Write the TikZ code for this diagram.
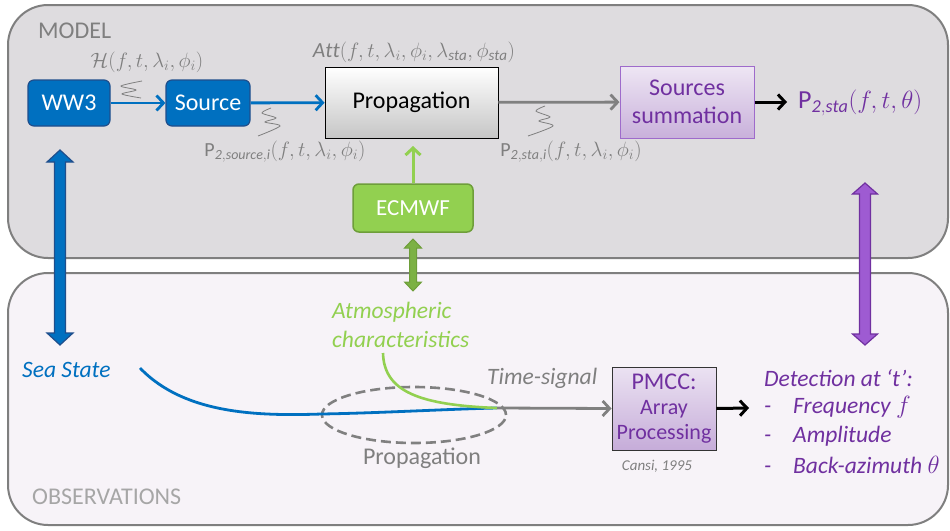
\documentclass[tikz,border=0pt]{standalone}
\usepackage{fontspec}
\setmainfont{Carlito}
\usetikzlibrary{arrows.meta,shapes.geometric}
\definecolor{panelgray}{HTML}{DEDCDF}
\definecolor{panelpink}{HTML}{F7F3F8}
\definecolor{bordgray}{HTML}{7F7F7F}
\definecolor{txtgray}{HTML}{7F7F7F}
\definecolor{obsgray}{HTML}{A6A6A6}
\definecolor{wblue}{HTML}{0070C0}
\definecolor{wblueD}{HTML}{1F4E8C}
\definecolor{egreen}{HTML}{92D050}
\definecolor{egreenD}{HTML}{6E9E3A}
\definecolor{ppurple}{HTML}{7030A0}
\definecolor{pfill}{HTML}{9E5BD2}
\definecolor{pborder}{HTML}{9E6BCB}
\newcommand\fatarrow[7]{%
  \draw[#7] (#1,#2) -- (#1+#5,#2+#6) -- (#1+#4,#2+#6) -- (#1+#4,#3-#6) -- (#1+#5,#3-#6) -- (#1,#3) -- (#1-#5,#3-#6) -- (#1-#4,#3-#6) -- (#1-#4,#2+#6) -- (#1-#5,#2+#6) -- cycle;}
\tikzset{
  panel/.style={draw=bordgray, line width=2pt, rounded corners=40pt},
  bluebox/.style={draw=wblueD, fill=wblue, line width=1.2pt, rounded corners=6pt, text=white, font=\fontsize{24}{26}\selectfont, minimum height=46pt, inner sep=0pt},
  greenbox/.style={draw=egreenD, fill=egreen, line width=1.5pt, rounded corners=6pt, text=white, font=\fontsize{23}{25}\selectfont, minimum height=48pt, minimum width=120pt, inner sep=0pt},
  propbox/.style={draw=black, line width=0.9pt, top color=white, bottom color=gray!45, font=\fontsize{24}{26}\selectfont, minimum width=173pt, minimum height=71pt, inner sep=0pt},
  sumbox/.style={draw=pborder, line width=1pt, top color=ppurple!12, bottom color=ppurple!38, text=ppurple, font=\fontsize{24}{28}\selectfont, minimum width=134pt, minimum height=72pt, inner sep=0pt, align=center},
  pmccbox/.style={draw=black!80, line width=0.9pt, top color=ppurple!14, bottom color=ppurple!40, text=ppurple, font=\fontsize{22}{25}\selectfont, minimum width=104pt, minimum height=83pt, inner sep=0pt, align=center},
  mlabel/.style={text=txtgray, font=\fontsize{20}{22}\selectfont, inner sep=0pt},
  conn/.style={line width=2.8pt, -{Straight Barb[length=7pt,width=15pt]}},
  squig/.style={draw=txtgray, line width=0.8pt},
  itl/.style={font=\fontsize{23.5}{29}\selectfont\itshape, inner sep=0pt},
}
\begin{document}
\begin{tikzpicture}[x=1pt,y=-1pt]
\useasboundingbox (0,0) rectangle (950,530);
% panels
\draw[panel, fill=panelgray] (8,5) rectangle (948,258);
\draw[panel, fill=panelpink] (8,273) rectangle (948,525);
\node[anchor=west, text=txtgray, font=\fontsize{24}{26}\selectfont, inner sep=0pt] (model) at (38,31) {MODEL};
\node[anchor=west, text=obsgray, font=\fontsize{24}{26}\selectfont, inner sep=0pt] (obs) at (32,497) {OBSERVATIONS};

% model nodes
\node[bluebox, minimum width=82pt] (ww3) at (69,103) {WW3};
\node[bluebox, minimum width=84pt] (src) at (208,103) {Source};
\node[propbox] (prop) at (411.5,102.5) {Propagation};
\node[sumbox] (sum) at (687,102) {Sources\\summation};
\node[text=ppurple, font=\fontsize{26}{28}\selectfont, anchor=west, inner sep=0pt] (p2sta) at (798,103) {$\mathrm{P}_{\mathit{2,sta}}(f,t,\theta)$};
\node[greenbox] (ecmwf) at (413,208) {ECMWF};

% labels
\node[mlabel] (hlab) at (147,62) {$\mathcal{H}(f,t,\lambda_i,\phi_i)$};
\node[mlabel, font=\fontsize{21.5}{23}\selectfont] (attlab) at (414,52) {$\mathit{Att}(f,t,\lambda_i,\phi_i,\lambda_{\mathit{sta}},\phi_{\mathit{sta}})$};
\node[mlabel] (psrc) at (285,152) {$\mathrm{P}_{\mathit{2,source,i}}(f,t,\lambda_i,\phi_i)$};
\node[mlabel] (psta) at (571,152) {$\mathrm{P}_{\mathit{2,sta,i}}(f,t,\lambda_i,\phi_i)$};

% connectors
\draw[conn, wblue] (ww3) -- (src);
\draw[conn, wblue] (src) -- (prop);
\draw[conn, gray] (prop) -- (sum);
\coordinate (p2in) at (787,102);
\draw[conn, black, line width=3pt] (sum.east) -- (p2in);
\coordinate (propin) at (413,146);
\draw[conn, egreen, line width=3pt] (ecmwf.north) -- (propin);

% squiggles
\draw[squig] plot[smooth] coordinates {(142,81) (121,86) (136,90) (122,94) (141,98)};
\draw[squig] plot[smooth] coordinates {(271,108) (262,113) (276,118) (265,122) (280,126) (258,136)};
\draw[squig] plot[smooth] coordinates {(545,106) (536,111) (550,117) (539,121) (553,126) (528,136)};

% fat arrows
\fatarrow{60}{150}{345}{5.5}{13}{12}{draw=wblueD, fill=wblue, line width=1.2pt}
\fatarrow{865}{183}{345}{5.5}{12.5}{11}{draw=ppurple, fill=pfill, line width=1.2pt}
\fatarrow{413}{239}{291}{3.5}{8.5}{9}{draw=egreenD, fill=egreen!85!black, line width=1pt}

% observations
\node[itl, text=wblue, anchor=west] (sea) at (22,370) {Sea State};
\node[itl, text=egreen, align=left, anchor=west] (atm) at (332,324.5) {Atmospheric\\characteristics};
\coordinate (merge) at (497,408);
\node[draw=gray, line width=2.6pt, dash pattern=on 10pt off 5pt, ellipse, minimum width=184pt, minimum height=56pt, inner sep=0pt] (ell) at (414,415) {};
\draw[wblue, line width=2.8pt] (140,368) .. controls (185,415) and (260,416) .. (322,414) .. controls (380,413) and (450,409) .. (merge);
\draw[egreen, line width=2.6pt] (383,353) .. controls (384,392) and (420,405) .. (merge);
\node[text=txtgray, font=\fontsize{24}{26}\selectfont, inner sep=0pt] (proplab) at (422,458) {Propagation};
\node[itl, text=txtgray, anchor=west] (tsig) at (487,378) {Time-signal};
\node[pmccbox] (pmcc) at (664,408.5) {{\fontsize{24}{25}\selectfont PMCC:}\\Array\\Processing};
\draw[conn, gray] (merge) -- (pmcc.west);
\node[text=txtgray, font=\fontsize{15}{16}\selectfont\itshape, inner sep=0pt] (cansi) at (657,466) {Cansi, 1995};
\coordinate (detin) at (749,408);
\draw[conn, black, line width=3pt] (pmcc.east) -- (detin);
\node[itl, text=ppurple, anchor=west] (det) at (764,378) {Detection at ‘t’:};
\node[itl, text=ppurple, anchor=west] (d1) at (764,407) {\makebox[29pt][l]{-}Frequency $f$};
\node[itl, text=ppurple, anchor=west] (d2) at (764,436) {\makebox[29pt][l]{-}Amplitude};
\node[itl, text=ppurple, anchor=west] (d3) at (764,465) {\makebox[29pt][l]{-}Back-azimuth $\theta$};
\end{tikzpicture}
\end{document}
